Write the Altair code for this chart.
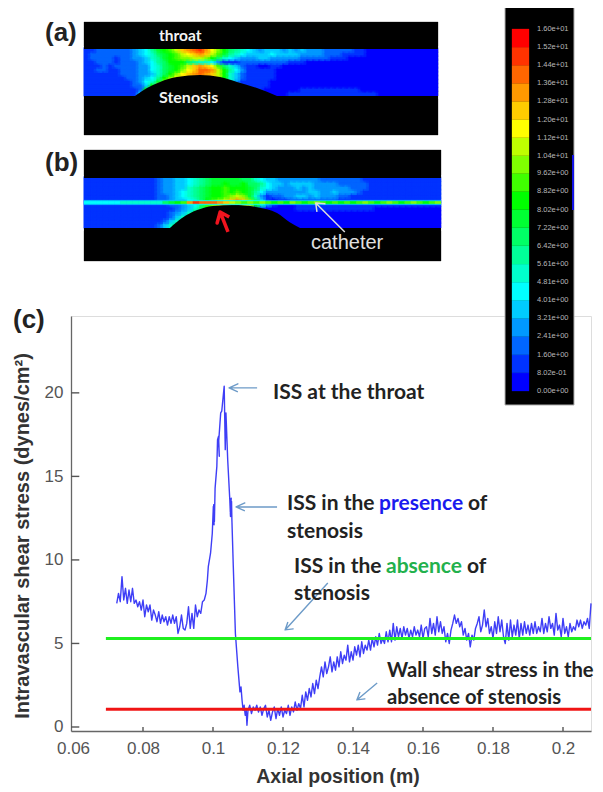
import altair as alt
import pandas as pd

# ---------- colour levels ----------
LEVEL_CHARS = "0123456789abcdefghij"
LEVEL_COLORS = ["#0000ff", "#0033ff", "#0066ff", "#0099ff", "#00ccff", "#00ffff", "#00ffcc", "#00ff99", "#00ff66", "#00ff33",
                "#00ff00", "#40ff00", "#80ff00", "#bfff00", "#ffff00", "#ffcc00", "#ff9900", "#ff6600", "#ff3300", "#ff0000"]
COLORBAR_LABELS = ["0.00e+00", "8.02e-01", "1.60e+00", "2.41e+00", "3.21e+00", "4.01e+00", "4.81e+00", "5.61e+00", "6.42e+00",
                   "7.22e+00", "8.02e+00", "8.82e+00", "9.62e+00", "1.04e+01", "1.12e+01", "1.20e+01", "1.28e+01", "1.36e+01",
                   "1.44e+01", "1.52e+01", "1.60e+01"]
COLORBAR_VALUES = [0.0, 0.802, 1.60, 2.41, 3.21, 4.01, 4.81, 5.61, 6.42, 7.22, 8.02, 8.82, 9.62, 10.4, 11.2, 12.0, 12.8, 13.6, 14.4, 15.2, 16.0]

# ---------- panel (a) field, one character per cell ----------
PANEL_A = [
    "1122222234" "579abdfghi" "geca876543" "4443434333" "2222211000",
    "1222222234" "5689abdefg" "fdb9765444" "4544443333" "2221111000",
    "1222212233" "4679abccdd" "ca86543334" "4333332222" "2111000000",
    "1122212223" "4578aaa876" "6531112222" "2222111000" "0000000000",
    "1112122223" "35689abdfg" "feb8642110" "0110000000" "0000000000",
    "1122112223" "35689acefh" "hgda753111" "1100000000" "0000000000",
    "1111112223" "3468acefgh" "gfda642111" "1100000000" "0000000000",
    "1111111223" "457aceffff" "ffda642111" "1100000000" "0000000000",
    "1111111123" "569cffffff" "ffda631111" "1000000000" "0000000000",
    "1111111122" "4affffffff" "ffd8521111" "1000000000" "0000000000",
    "1111111112" "afffffffff" "ffd7411111" "0000001111" "1111110000",
    "1111111114" "ffffffffff" "ffd6311111" "0000111111" "1111111110",
]

# ---------- panel (b) field ----------
PANEL_B = [
    "1111111111" "1123344567" "8999998865" "4433333332" "2222221111" "111111111",
    "1111111111" "1123344567" "899a99a887" "5443444433" "3322222111" "111111111",
    "1111111111" "1123344678" "9aabaaa986" "5433343433" "3333222111" "111111111",
    "1111111111" "1123345678" "9aababa975" "3333333443" "3433321111" "111111111",
    "1111111111" "1122345678" "9aabcdc963" "1223344343" "3322111111" "111111111",
    "1111111111" "1122344568" "abcdfgfc84" "1011222222" "2211111111" "111111111",
    "1111111111" "1111223458" "bcefgfeda6" "3100011111" "1111111111" "111111111",
    "1111111111" "1111123468" "abbba86311" "0000011111" "1111111100" "000000000",
    "1111111111" "1111234699" "aaaa000000" "0000000000" "0000000000" "000000000",
    "1111111111" "1111246999" "0000000000" "0000000000" "0000000000" "000000000",
    "1111111111" "1112469990" "0000000000" "0000000000" "0000000000" "000000000",
    "1111111111" "1124699000" "0000000000" "0000000000" "0000000000" "000000000",
]
CATHETER_HALO = "4444444444" "4444444555" "5555555555" "4444444444" "4444444444" "444444444"
CATHETER_CORE = "5555556666" "66689abgih" "hhgfdcbcbc" "babacbabcb" "abababcbab" "cbabcbabc"

# ---------- stenosis outlines (cell units) ----------
STENOSIS_A_COL = [8.5, 10.5, 12.67, 15.5, 19.33, 22.67, 25.5, 28.83, 32.17]
STENOSIS_A_ROW = [12, 9.95, 8.4, 7.14, 6.63, 7.14, 8.4, 9.95, 12]
STENOSIS_B_COL = [14.2, 16.2, 18.7, 21.3, 24.6, 28.6, 31.9, 34.0, 35.7]
STENOSIS_B_ROW = [12, 9.6, 7.7, 6.7, 6.5, 7.0, 8.4, 10.6, 12]

# ---------- panel (b) arrows (cell units) ----------
RED_ARROW = [(23.8, 12.95), (22.5, 8.15), (22.0, 10.8), (22.5, 8.15), (24.0, 9.35)]
WHITE_ARROW = [(43.1, 12.95), (38.3, 6.0), (39.8, 6.2), (38.3, 6.0), (38.5, 8.15)]

# ---------- panel (c) curve ----------
SEG1_X0, SEG1_STEP = 0.0725, 0.0005
SEG1_Y = [7.4, 8.0, 7.5, 9.0, 7.6, 8.3, 7.4, 8.2, 7.5, 8.3, 7.4, 7.6, 7.2, 7.5, 7.0, 7.6, 6.6, 7.3, 6.9, 7.3, 6.4, 7.0, 6.7, 6.3, 6.9,
          6.2, 6.7, 6.3, 6.6, 6.1, 6.6, 6.2, 6.7, 6.2, 6.6, 5.6, 6.0, 6.7, 5.9, 5.8, 6.2, 7.2, 5.9, 6.8, 5.9, 7.3, 6.6, 7.0, 6.8, 7.5, 7.6]
PEAK_X = [0.098, 0.0984, 0.09866, 0.0993, 0.0998, 0.1001, 0.1003, 0.1002, 0.1004, 0.1006, 0.1011, 0.1013, 0.1016, 0.1018, 0.1016, 0.1022,
          0.1025, 0.1032, 0.1035, 0.1037, 0.1042, 0.1048, 0.105, 0.1052, 0.1049, 0.1053, 0.1054, 0.1058, 0.1064, 0.1071, 0.1077,
          0.108, 0.1083, 0.1086, 0.1089, 0.1092, 0.1095, 0.1097]
PEAK_Y = [8.0, 8.8, 9.6, 10.4, 11.6, 13.2, 12.1, 13.3, 12.3, 14.3, 15.6, 17.2, 17.4, 16.2, 17.0, 18.8,
          18.9, 20.4, 16.6, 18.8, 16.0, 13.6, 12.6, 13.7, 12.9, 13.5, 12.4, 9.6, 5.6, 3.6, 2.1,
          2.4, 1.6, 1.0, 1.3, 0.7, 1.0, 0.1]
SEG2_X0, SEG2_STEP = 0.1100, 0.0005
SEG2_Y = [1.0, 1.3, 0.8, 1.2, 1.0, 1.3, 0.9, 1.2, 0.7, 1.1,
          1.3, 0.6, 1.0, 0.4, 0.9, 1.2, 0.5, 1.1, 0.7, 1.2,
          0.6, 1.0, 0.8, 1.3, 0.7, 1.2, 0.9, 1.5, 1.0, 1.4,
          1.1, 1.9, 1.2, 2.1, 1.6, 2.3, 1.8, 2.6, 2.0, 2.8,
          2.3, 3.0, 3.6, 3.0, 3.9, 3.2, 3.6, 4.2, 3.3, 3.9,
          3.4, 4.2, 3.6, 4.5, 3.8, 4.3, 4.0, 4.9, 3.9, 4.5,
          4.0, 4.8, 4.3, 4.9, 4.2, 5.1, 4.4, 4.9, 4.6, 5.2,
          4.6, 5.3, 4.8, 5.4, 4.9, 5.6, 5.0, 5.3, 5.0, 5.7, 5.1]
SEG3_X0, SEG3_STEP = 0.1505, 0.0005
SEG3_Y = [5.8, 5.1, 6.2, 5.2, 6.0, 5.4, 5.9, 5.3, 6.0, 5.5,
          5.9, 5.3, 5.8, 5.4, 6.0, 5.5, 5.8, 5.4, 6.1, 5.3,
          5.9, 6.0, 5.4, 6.5, 5.6, 6.2, 5.5, 6.6, 5.7, 6.3,
          5.6, 6.0, 5.1, 5.6, 5.0, 5.8, 6.2, 6.7, 6.2, 6.5,
          6.0, 6.3, 5.5, 5.9, 5.2, 5.6, 4.8, 5.5, 5.2, 5.9,
          6.2, 6.6, 5.7, 6.1, 7.0, 6.0, 6.5, 5.6, 6.0, 5.3,
          6.3, 5.6, 6.6, 5.7, 6.4, 5.4, 5.0, 6.2, 5.2, 6.4,
          5.4, 6.1, 5.5, 6.4, 5.3, 6.2, 5.5, 6.3, 5.6, 6.1,
          5.5, 6.2, 5.6, 6.3, 5.6, 6.0, 5.7, 6.5, 5.6, 6.2,
          5.7, 6.6, 5.9, 6.2, 5.5, 6.8, 5.8, 6.1, 5.4, 6.5,
          5.6, 6.0, 5.4, 6.2, 5.7, 6.0, 5.8, 6.4, 6.0, 6.4,
          5.9, 6.3, 6.1, 6.5, 5.9, 7.4]
LINE_X_RANGE = [0.0694, 0.208]
GREEN_Y = 5.29
RED_Y = 1.06
X_TICKS = [0.06, 0.08, 0.1, 0.12, 0.14, 0.16, 0.18, 0.2]
Y_TICKS = [0, 5, 10, 15, 20]

# annotation arrows in data units: shaft then barbs
ARROWS_C = [
    [(0.1126, 20.3), (0.1046, 20.3), (0.1071, 20.54), (0.1046, 20.3), (0.1071, 20.06)],
    [(0.1183, 13.17), (0.1066, 13.17), (0.1091, 13.41), (0.1066, 13.17), (0.1091, 12.93)],
    [(0.1328, 8.62), (0.1206, 5.81), (0.1229, 5.87), (0.1206, 5.81), (0.1214, 6.29)],
    [(0.1469, 2.63), (0.1411, 1.62), (0.1434, 1.68), (0.1411, 1.62), (0.142, 2.1)],
]

# text, page x, page y, size, colour, weight, font
BODY = "Lato"
DARK = "#222222"
TEXTS = [
    ("(a)", 45, 33, 26, DARK, "bold", "Liberation Sans"),
    ("(b)", 45, 163, 26, DARK, "bold", "Liberation Sans"),
    ("(c)", 13, 320, 26, DARK, "bold", "Liberation Sans"),
    ("throat", 159, 36, 15.5, "#f4f4f4", "bold", BODY),
    ("Stenosis", 159, 98, 16, "#f4f4f4", "bold", BODY),
    ("catheter", 311, 243, 20, "#e0e0e0", "normal", "Liberation Sans"),
    ("ISS at the throat", 273, 393, 21, DARK, "bold", BODY),
    ("ISS in the", 287, 504, 21, DARK, "bold", BODY),
    ("presence", 379, 504, 21, "#1a1aee", "bold", BODY),
    ("of", 468, 504, 21, DARK, "bold", BODY),
    ("stenosis", 287, 532, 21, DARK, "bold", BODY),
    ("ISS in the", 294, 567, 21, DARK, "bold", BODY),
    ("absence", 386, 567, 21, "#22b14c", "bold", BODY),
    ("of", 467, 567, 21, DARK, "bold", BODY),
    ("stenosis", 294, 594, 21, DARK, "bold", BODY),
    ("Wall shear stress in the", 387, 671, 20.2, DARK, "bold", BODY),
    ("absence of stenosis", 387, 698, 20.2, DARK, "bold", BODY),
]

# ---------- layout: the view is the plot area of panel (c) ----------
W, H = 520, 415
OX, OY = 71, 316   # page position of the view origin


def vx(px):
    return alt.value(px - OX)


def vy(py):
    return alt.value(py - OY)


level_scale = alt.Scale(domain=list(range(20)), range=LEVEL_COLORS)
x_c = alt.Scale(domain=[0.05943, 0.208], range=[0, W], nice=False, zero=False)
y_c = alt.Scale(domain=[-0.24, 24.6], range=[H, 0], nice=False, zero=False)
A_X = alt.Scale(domain=[0, 59], range=[84 - OX, 438 - OX], nice=False, zero=False)
A_Y = alt.Scale(domain=[0, 12], range=[49 - OY, 96 - OY], nice=False, zero=False)
B_X = alt.Scale(domain=[0, 59], range=[84 - OX, 441 - OX], nice=False, zero=False)
B_Y = alt.Scale(domain=[0, 12], range=[178 - OY, 228 - OY], nice=False, zero=False)
BAR_Y = alt.Scale(domain=[0, 16], range=[391 - OY, 29 - OY], nice=False, zero=False)

# successive semi-transparent copies of the cell grid soften the cell edges, as in the blurred original
SOFTEN = [(-2, -1.2, 1.0), (2, -1.2, 0.5), (-2, 1.2, 0.34), (2, 1.2, 0.25)]


def block(x0, x1, y0, y1, fill, stroke=None):
    kw = {"fill": fill}
    if stroke:
        kw.update(stroke=stroke, strokeWidth=1)
    return alt.Chart(pd.DataFrame({"k": [0]})).mark_rect(**kw).encode(x=vx(x0), x2=vx(x1), y=vy(y0), y2=vy(y1))


def field_cells(rows, xs, ys):
    recs = []
    for r, row in enumerate(rows):
        for c, ch in enumerate(row.ljust(59, "0")[:59]):
            recs.append({"c": c, "c2": c + 1, "r": r, "r2": r + 1, "level": LEVEL_CHARS.index(ch)})
    df = pd.DataFrame(recs)
    out = []
    for dx, dy, op in SOFTEN:
        out.append(alt.Chart(df).mark_rect(strokeWidth=0.7, xOffset=dx, yOffset=dy, opacity=op).encode(
            x=alt.X("c:Q", scale=xs, axis=None), x2="c2:Q",
            y=alt.Y("r:Q", scale=ys, axis=None), y2="r2:Q",
            color=alt.Color("level:O", scale=level_scale, legend=None),
            stroke=alt.Stroke("level:O", scale=level_scale, legend=None),
        ))
    return out


def catheter(levels, half, xs, ys):
    recs = [{"c": c, "c2": c + 1, "r": 5.88 - half, "r2": 5.88 + half, "level": LEVEL_CHARS.index(ch)} for c, ch in enumerate(levels)]
    return alt.Chart(pd.DataFrame(recs)).mark_rect(strokeWidth=0.3).encode(
        x=alt.X("c:Q", scale=xs, axis=None), x2="c2:Q",
        y=alt.Y("r:Q", scale=ys, axis=None), y2="r2:Q",
        color=alt.Color("level:O", scale=level_scale, legend=None),
        stroke=alt.Stroke("level:O", scale=level_scale, legend=None),
    )


def stenosis(cols, rows, xs, ys):
    df = pd.DataFrame({"c": cols, "r": rows, "b": [12.6] * len(cols)})
    return alt.Chart(df).mark_area(color="black", interpolate="monotone").encode(
        x=alt.X("c:Q", scale=xs, axis=None), y=alt.Y("r:Q", scale=ys, axis=None), y2="b:Q")


def path(points, xs, ys, color, width):
    df = pd.DataFrame({"x": [p[0] for p in points], "y": [p[1] for p in points], "i": list(range(len(points)))})
    return alt.Chart(df).mark_line(color=color, strokeWidth=width, strokeJoin="round").encode(
        x=alt.X("x:Q", scale=xs, axis=None), y=alt.Y("y:Q", scale=ys, axis=None), order="i:Q")


layers = []

# panels (a), (b): softened fields first, then the black surround and page-white margins over their edges
layers.append(block(84, 438, 22, 135, "black", "#b0b0b0"))
layers.extend(field_cells(PANEL_A, A_X, A_Y))
layers.append(block(84, 438, 22, 49, "black"))
layers.append(block(84, 438, 96, 135, "black"))
layers.append(block(79, 83.5, 46, 99, "white"))
layers.append(block(438.5, 444, 46, 99, "white"))
layers.append(stenosis(STENOSIS_A_COL, STENOSIS_A_ROW, A_X, A_Y))
layers.append(block(84, 441, 150, 261, "black", "#b0b0b0"))
layers.extend(field_cells(PANEL_B, B_X, B_Y))
layers.append(block(84, 441, 150, 178, "black"))
layers.append(block(84, 441, 228, 261, "black"))
layers.append(block(79, 83.5, 175, 231, "white"))
layers.append(block(441.5, 447, 175, 231, "white"))
layers.append(stenosis(STENOSIS_B_COL, STENOSIS_B_ROW, B_X, B_Y))
layers.append(catheter(CATHETER_HALO, 0.55, B_X, B_Y))
layers.append(catheter(CATHETER_CORE, 0.3, B_X, B_Y))
layers.append(path(RED_ARROW, B_X, B_Y, "#f0141e", 3.5))
layers.append(path(WHITE_ARROW, B_X, B_Y, "#dddddd", 1.5))

# colour bar
layers.append(block(505, 574, 7, 405, "black", "#b0b0b0"))
layers.append(block(572, 574, 155, 210, "#1414e6"))
bar = pd.DataFrame({"lo": COLORBAR_VALUES[:-1], "hi": COLORBAR_VALUES[1:], "level": list(range(20))})
layers.append(alt.Chart(bar).mark_rect(strokeWidth=0.3).encode(
    x=vx(512), x2=vx(529),
    y=alt.Y("lo:Q", scale=BAR_Y, axis=None), y2="hi:Q",
    color=alt.Color("level:O", scale=level_scale, legend=None),
    stroke=alt.Stroke("level:O", scale=level_scale, legend=None)))
bar_text = pd.DataFrame({"v": COLORBAR_VALUES, "t": COLORBAR_LABELS})
layers.append(alt.Chart(bar_text).mark_text(align="left", baseline="middle", fontSize=7.5, color="#b8b8b8", font="Liberation Sans").encode(
    x=vx(537), y=alt.Y("v:Q", scale=BAR_Y, axis=None), text="t:N"))

# panel (c) axes
axis_x = alt.Axis(values=X_TICKS, labelExpr="format(datum.value, '.2~f')", title=None, ticks=False, grid=False,
                  domainColor="#666666", domainWidth=1.3, labelFontSize=17, labelColor="#555555", labelFont="Liberation Sans",
                  labelPadding=9, labelBound=False, labelFlush=False)
axis_y = alt.Axis(values=Y_TICKS, title=None, ticks=False, grid=False, domainColor="#666666", domainWidth=1.3,
                  labelFontSize=17, labelColor="#555555", labelFont="Liberation Sans", labelPadding=8)
curve = pd.DataFrame({
    "x": [SEG1_X0 + i * SEG1_STEP for i in range(len(SEG1_Y))] + PEAK_X
         + [SEG2_X0 + i * SEG2_STEP for i in range(len(SEG2_Y))]
         + [SEG3_X0 + i * SEG3_STEP for i in range(len(SEG3_Y))],
    "y": SEG1_Y + PEAK_Y + SEG2_Y + SEG3_Y,
})
curve["i"] = range(len(curve))
layers.append(alt.Chart(curve).mark_line(color="#1c1cf5", strokeWidth=1.4, opacity=0.85, strokeJoin="round").encode(
    x=alt.X("x:Q", scale=x_c, axis=axis_x), y=alt.Y("y:Q", scale=y_c, axis=axis_y), order="i:Q"))
layers.append(alt.Chart(pd.DataFrame({"x": X_TICKS[1:], "a": [-0.24] * 7, "b": [0.0] * 7})).mark_rule(color="#555555", strokeWidth=1.4).encode(
    x=alt.X("x:Q", scale=x_c, axis=None), y=alt.Y("a:Q", scale=y_c, axis=None), y2="b:Q"))
layers.append(alt.Chart(pd.DataFrame({"y": Y_TICKS, "a": [0.05943] * 5, "b": [0.0618] * 5})).mark_rule(color="#555555", strokeWidth=1.4).encode(
    y=alt.Y("y:Q", scale=y_c, axis=None), x=alt.X("a:Q", scale=x_c, axis=None), x2="b:Q"))
for yv, col in ((GREEN_Y, "#1ff01f"), (RED_Y, "#f01414")):
    df = pd.DataFrame({"x": LINE_X_RANGE, "y": [yv, yv]})
    layers.append(alt.Chart(df).mark_line(color=col, strokeWidth=3).encode(
        x=alt.X("x:Q", scale=x_c, axis=None), y=alt.Y("y:Q", scale=y_c, axis=None)))
for a in ARROWS_C:
    layers.append(path(a, x_c, y_c, "#6d9bc8", 1.4))

# texts
one = pd.DataFrame({"k": [0]})
for t, px, py, size, col, weight, font in TEXTS:
    layers.append(alt.Chart(one).mark_text(text=t, align="left", baseline="middle", fontSize=size, color=col, fontWeight=weight, font=font).encode(
        x=vx(px), y=vy(py)))
layers.append(alt.Chart(one).mark_text(text="Intravascular shear stress (dynes/cm²)", angle=270, align="center", baseline="middle",
                                       fontSize=20, color="#333333", fontWeight="bold", font="Liberation Sans").encode(x=vx(23), y=vy(536)))
layers.append(alt.Chart(one).mark_text(text="Axial position (m)", align="center", baseline="middle",
                                       fontSize=19.5, color="#333333", fontWeight="bold", font="Liberation Sans").encode(x=vx(338), y=vy(777)))

chart = alt.layer(*layers).resolve_scale(x="independent", y="independent").properties(
    width=W, height=H,
    autosize=alt.AutoSizeParams(type="none"),
    padding={"left": OX - 8, "top": OY - 8, "right": 4, "bottom": 57},
).configure_view(stroke=None).configure(background="white")

chart.save("out.html", embed_options={"renderer": "svg", "actions": False})
